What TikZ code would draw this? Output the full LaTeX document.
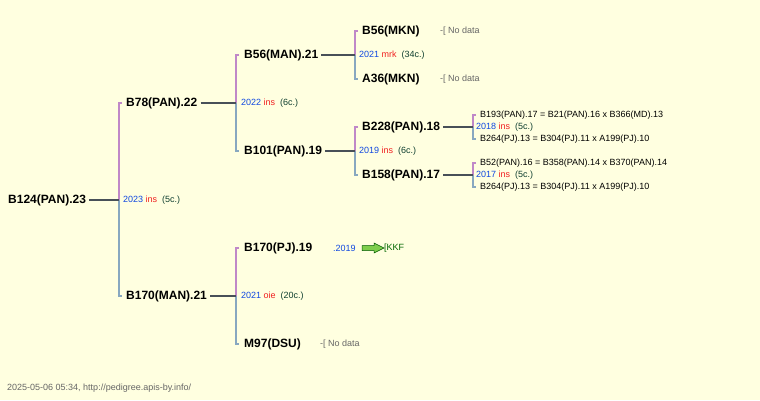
\documentclass[tikz,border=0pt]{standalone}
\usepackage{fontspec}
\setmainfont{Liberation Sans}
\definecolor{bgyel}{HTML}{FFFFE0}
\definecolor{yrblue}{HTML}{1048E0}
\definecolor{insred}{HTML}{F02020}
\definecolor{cntgrn}{HTML}{104030}
\definecolor{dadpur}{HTML}{C088C8}
\definecolor{mumblu}{HTML}{88A8C0}
\definecolor{linkgr}{HTML}{485058}
\tikzset{
  bee/.style={anchor=west, inner sep=0pt, font=\fontsize{12}{12}\selectfont\bfseries},
  info/.style={anchor=west, inner sep=0pt, font=\fontsize{9}{9}\selectfont},
  link/.style={line width=2pt, linkgr},
  dadline/.style={line width=2pt, dadpur},
  mumline/.style={line width=2pt, mumblu}
}
\newcommand{\yrins}[3]{\textcolor{yrblue}{#1}\ \textcolor{insred}{#2}\ \ \textcolor{cntgrn}{(#3)}}
\newcommand{\bracket}[4]{% x, top, mid, bottom
  \draw[dadline] (#1+3,#2) -- (#1,#2) -- (#1,#3);
  \draw[mumline] (#1,#3) -- (#1,#4) -- (#1+3,#4);}
\begin{document}
\begin{tikzpicture}[x=1pt, y=-1pt]
  \fill[bgyel] (0,0) rectangle (760,400);
  \useasboundingbox (0,0) rectangle (760,400);

  % queens
  \node[bee] (q0) at (8,200) {B124(PAN).23};
  \node[bee] (q1) at (126,103) {B78(PAN).22};
  \node[bee] (q2) at (126,296) {B170(MAN).21};
  \node[bee] (q3) at (244,55) {B56(MAN).21};
  \node[bee] (q4) at (244,151) {B101(PAN).19};
  \node[bee] (q5) at (244,248) {B170(PJ).19};
  \node[bee] (q6) at (244,344) {M97(DSU)};
  \node[bee] (q7) at (362,31) {B56(MKN)};
  \node[bee] (q8) at (362,79) {A36(MKN)};
  \node[bee] (q9) at (362,127) {B228(PAN).18};
  \node[bee] (q10) at (362,175) {B158(PAN).17};

  % brackets
  \coordinate (b0) at (119,200);
  \coordinate (b1) at (236,103);
  \coordinate (b2) at (236,296);
  \coordinate (b3) at (355,55);
  \coordinate (b4) at (355,151);
  \coordinate (b9) at (473,127);
  \coordinate (b10) at (473,175);
  \bracket{119}{103}{200}{296}
  \bracket{236}{55}{103}{151}
  \bracket{236}{248}{296}{344}
  \bracket{355}{31}{55}{79}
  \bracket{355}{127}{151}{175}
  \bracket{473}{115}{127}{139}
  \bracket{473}{163}{175}{187}
  \foreach \q/\b in {q0/b0,q1/b1,q2/b2,q3/b3,q4/b4,q9/b9,q10/b10}
    \draw[link] ([xshift=3pt]\q.east) -- (\b);

  % mating info
  \node[info] (m0) at (123,200) {\yrins{2023}{ins}{5c.}};
  \node[info] (m1) at (241,103) {\yrins{2022}{ins}{6c.}};
  \node[info] (m2) at (241,296) {\yrins{2021}{oie}{20c.}};
  \node[info] (m3) at (359,55) {\yrins{2021}{mrk}{34c.}};
  \node[info] (m4) at (359,151) {\yrins{2019}{ins}{6c.}};
  \node[info] (m9) at (476,127) {\yrins{2018}{ins}{5c.}};
  \node[info] (m10) at (476,175) {\yrins{2017}{ins}{5c.}};

  \node[info] (p9a) at (480,115) {B193(PAN).17 = B21(PAN).16 x B366(MD).13};
  \node[info] (p9b) at (480,139) {B264(PJ).13 = B304(PJ).11 x A199(PJ).10};
  \node[info] (p10a) at (480,163) {B52(PAN).16 = B358(PAN).14 x B370(PAN).14};
  \node[info] (p10b) at (480,187) {B264(PJ).13 = B304(PJ).11 x A199(PJ).10};

  \node[info, gray!80!black] (n7) at (440,31) {-[ No data};
  \node[info, gray!80!black] (n8) at (440,79) {-[ No data};
  \node[info, gray!80!black] (n6) at (320,344) {-[ No data};

  \node[info, yrblue] (y5) at (333,248) {.2019};
  \node[info, green!40!black] (kkf) at (384,248) {[KKF};
  \draw[fill=green!45!olive!70, draw=green!35!black, line width=.5pt]
    (362,245.5) -- (374,245.5) -- (374,243) -- (kkf.west) -- (374,253) -- (374,250.5) -- (362,250.5) -- cycle;

  \node[info, gray!80!black] (foot) at (7,388) {2025-05-06 05:34, http://pedigree.apis-by.info/};
\end{tikzpicture}
\end{document}
